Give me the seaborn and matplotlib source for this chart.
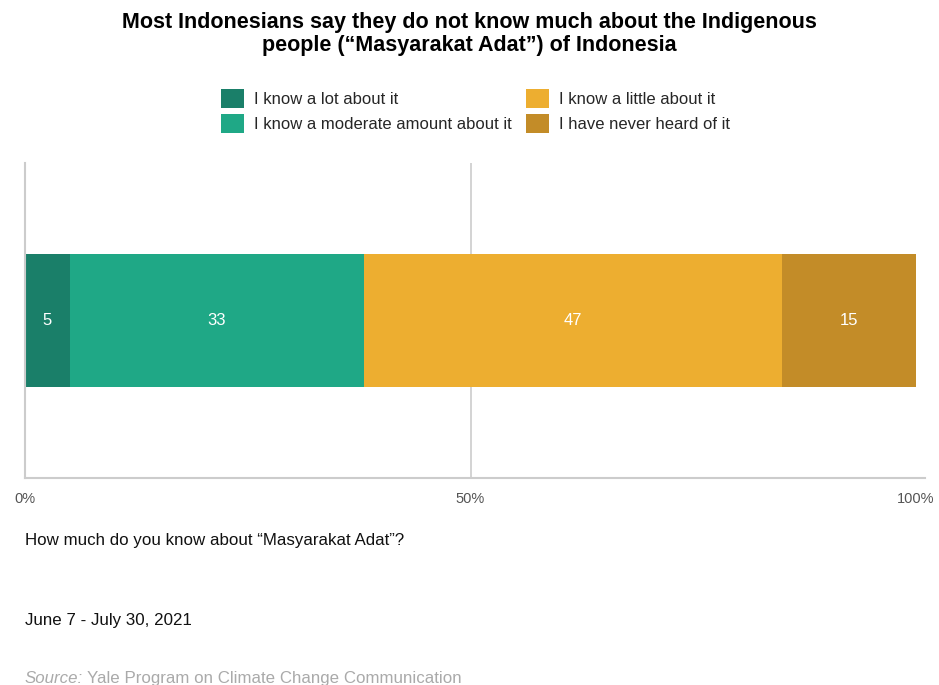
import pandas as pd
import seaborn as sns
import matplotlib.pyplot as plt
from matplotlib.patches import Patch


# Survey responses (percent)
categories = ['I know a lot about it', 'I know a moderate amount about it',
              'I know a little about it', 'I have never heard of it']
values = [5, 33, 47, 15]
colors = ['#1a7f69', '#1fa886', '#edae30', '#c38c28']
tick_labels = ['0%', '50%', '100%']

sns.set_theme(style='white')
plt.rcParams['font.family'] = ['Liberation Sans', 'DejaVu Sans']

df = pd.DataFrame({'category': categories, 'value': values})
df['cum'] = df['value'].cumsum()
df['start'] = df['cum'] - df['value']
df['row'] = ''

fig = plt.figure(figsize=(9.39, 6.85), dpi=100)
ax = fig.add_axes([25/939, 1 - 478/685, 900/939, 315/685])

# stacked bar: draw cumulative totals, largest first
for i in reversed(range(len(df))):
  sns.barplot(data=df.iloc[[i]], x='cum', y='row', color=colors[i],
              orient='h', width=0.42, ax=ax, saturation=1, edgecolor='none')

for _, r in df.iterrows():
  ax.text(r['start'] + r['value'] / 2, 0, str(r['value']), color='white',
          ha='center', va='center', fontsize=12)

ax.set_xlim(0, 101)
ax.set_ylim(0.5, -0.5)
ax.axvline(50, color='#cccccc', lw=1.2, zorder=0)
ax.set_xticks([0, 50, 100])
ax.set_xticklabels(tick_labels, color='#555555', fontsize=10.5)
ax.tick_params(axis='x', length=0, pad=10)
ax.set_yticks([])
ax.set_xlabel('')
ax.set_ylabel('')
for s in ['top', 'right']:
  ax.spines[s].set_visible(False)
for s in ['left', 'bottom']:
  ax.spines[s].set_color('#cccccc')
  ax.spines[s].set_linewidth(1.5)

fig.text(0.5, 1 - 34/685, 'Most Indonesians say they do not know much about the Indigenous\n'
         'people (\u201cMasyarakat Adat\u201d) of Indonesia',
         ha='center', va='center', fontsize=15.5, fontweight='bold', linespacing=1.15,
         color='black')

handles = [Patch(facecolor=c, edgecolor='none') for c in colors]
fig.legend(handles, categories, ncol=2, loc='center', bbox_to_anchor=(0.5 + 6/939, 1 - 111/685),
           frameon=False, fontsize=12, handlelength=1.35, handleheight=1.35,
           handletextpad=0.6, columnspacing=0.9, labelspacing=0.35, borderpad=0)

fig.text(25/939, 1 - 541/685, 'How much do you know about \u201cMasyarakat Adat\u201d?',
         ha='left', va='center', fontsize=12.2, color='#111111')
fig.text(25/939, 1 - 621/685, 'June 7 - July 30, 2021',
         ha='left', va='center', fontsize=12.2, color='#111111')
src = fig.text(25/939, 1 - 683/685, 'Source:', ha='left', va='baseline', fontsize=12.2,
               color='#aaaaaa', style='italic')
fig.canvas.draw()
bb = src.get_window_extent()
fig.text(bb.x1 / fig.bbox.width + 0.004, 1 - 683/685, 'Yale Program on Climate Change Communication',
         ha='left', va='baseline', fontsize=12.2, color='#aaaaaa')

plt.savefig('out.png', dpi=100)
